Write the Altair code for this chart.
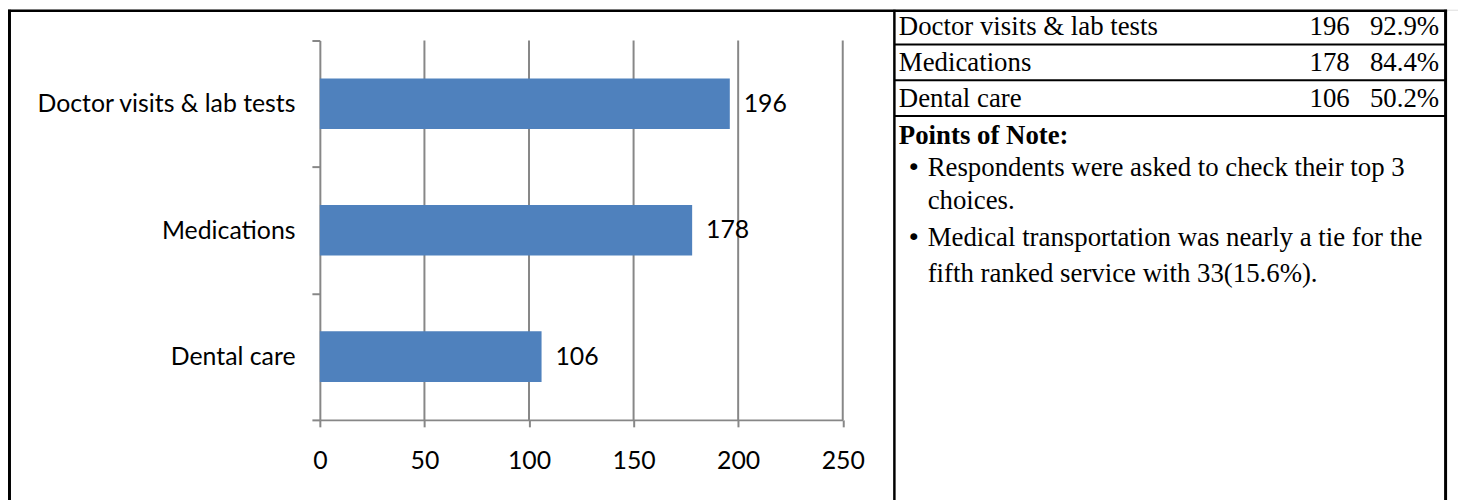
import altair as alt
import pandas as pd

# ---------------- data ----------------
categories = ["Doctor visits & lab tests", "Medications", "Dental care"]
counts = [196, 178, 106]
percents = ["92.9%", "84.4%", "50.2%"]
x_ticks = [0, 50, 100, 150, 200, 250]
note_title = "Points of Note:"
note_bullet_1 = ["Respondents were asked to check their top 3", "choices."]
note_bullet_2 = [" Medical transportation was nearly a tie for the", "fifth ranked service with 33(15.6%)."]

df = pd.DataFrame({"cat": categories, "count": counts, "pct": percents})
grid_df = pd.DataFrame({"count": x_ticks[1:]})
one = pd.DataFrame({"k": [0]})

# ---------------- layout / style ----------------
W, H = 1460, 500
SANS = "Lato"
SERIF = "Liberation Serif"
GRAY = "#878787"
BAR = "#4F81BD"
SANS_SIZE = 25
SERIF_SIZE = 27

x_scale = alt.Scale(domain=[0, 250], range=[314, 840.5], nice=False, zero=True)
y_scale = alt.Scale(domain=categories, range=[31, 413], paddingInner=0, paddingOuter=0)

x_axis = alt.Axis(
    values=x_ticks, title=None, grid=False, orient="bottom", offset=413 - H,
    domainColor=GRAY, domainWidth=2, tickColor=GRAY, tickWidth=2, tickSize=7,
    labelFont=SANS, labelFontSize=SANS_SIZE, labelColor="black",
    labelPadding=34, labelBaseline="middle", labelFlush=False, labelOverlap=False,
)
y_axis = alt.Axis(
    title=None, orient="left", offset=-314, tickBand="extent", grid=False,
    domainColor=GRAY, domainWidth=2, tickColor=GRAY, tickWidth=2, tickSize=8,
    labelFont=SANS, labelFontSize=SANS_SIZE, labelColor="black",
    labelPadding=17, labelLimit=500,
)

grid = alt.Chart(grid_df).mark_rule(color=GRAY, strokeWidth=2).encode(
    x=alt.X("count:Q", scale=x_scale, axis=x_axis),
    y=alt.value(31), y2=alt.value(413),
)

bars = alt.Chart(df).mark_bar(color=BAR, height={"band": 0.4}).encode(
    x=alt.X("count:Q", scale=x_scale, axis=x_axis),
    y=alt.Y("cat:N", scale=y_scale, axis=y_axis, sort=categories),
)

bar_labels = alt.Chart(df).mark_text(
    align="left", baseline="middle", dx=14, font=SANS, fontSize=SANS_SIZE, color="black"
).encode(
    x=alt.X("count:Q", scale=x_scale, axis=x_axis),
    y=alt.Y("cat:N", scale=y_scale, axis=None, sort=categories),
    text="count:Q",
)

# ---------------- table ----------------
row_scale = alt.Scale(type="point", domain=categories, range=[17.5, 89.5], padding=0)

def table_col(field, xpos, align):
    return alt.Chart(df).mark_text(
        align=align, baseline="middle", font=SERIF, fontSize=SERIF_SIZE, color="black"
    ).encode(
        x=alt.value(xpos),
        y=alt.Y("cat:N", scale=row_scale, axis=None, sort=categories),
        text=f"{field}:N",
    )

t_name = table_col("cat", 897, "left")
t_count = table_col("count", 1351, "right")
t_pct = table_col("pct", 1441, "right")

def note(text, xpos, ypos, bold=False, size=SERIF_SIZE, font=SERIF):
    return alt.Chart(one).mark_text(
        align="left", baseline="middle", font=font, fontSize=size,
        fontWeight="bold" if bold else "normal", color="black", text=text,
    ).encode(x=alt.value(xpos), y=alt.value(ypos))

notes = [
    note(note_title, 897, 127, bold=True),
    note("\u2022", 905, 159, size=24, font="DejaVu Sans"),
    note(note_bullet_1[0], 926, 159),
    note(note_bullet_1[1], 926, 193),
    note("\u2022", 905, 230, size=24, font="DejaVu Sans"),
    note(note_bullet_2[0], 926, 230),
    note(note_bullet_2[1], 926, 266),
]

# ---------------- borders ----------------
def vline(xpos, width, y1=0, y2=H + 10):
    return alt.Chart(one).mark_rule(color="black", strokeWidth=width).encode(
        x=alt.value(xpos), y=alt.value(y1), y2=alt.value(y2)
    )

def hline(ypos, width, x1, x2):
    return alt.Chart(one).mark_rule(color="black", strokeWidth=width).encode(
        y=alt.value(ypos), x=alt.value(x1), x2=alt.value(x2)
    )

borders = [
    vline(1.5, 3),
    hline(1, 2.5, 0, 1449),
    vline(892.5, 2.5),
    vline(1447.5, 3),
    hline(35, 2, 892.5, 1447.5),
    hline(71, 2, 892.5, 1447.5),
    hline(107, 2, 892.5, 1447.5),
]

chart = alt.layer(
    grid, bars, bar_labels, t_name, t_count, t_pct, *notes, *borders
).resolve_scale(y="independent").properties(
    width=W, height=H, padding=0,
    autosize=alt.AutoSizeParams(type="none"),
).configure_view(stroke=None).configure(background="white")

chart.save("out.html", embed_options={"renderer": "svg", "actions": False})
